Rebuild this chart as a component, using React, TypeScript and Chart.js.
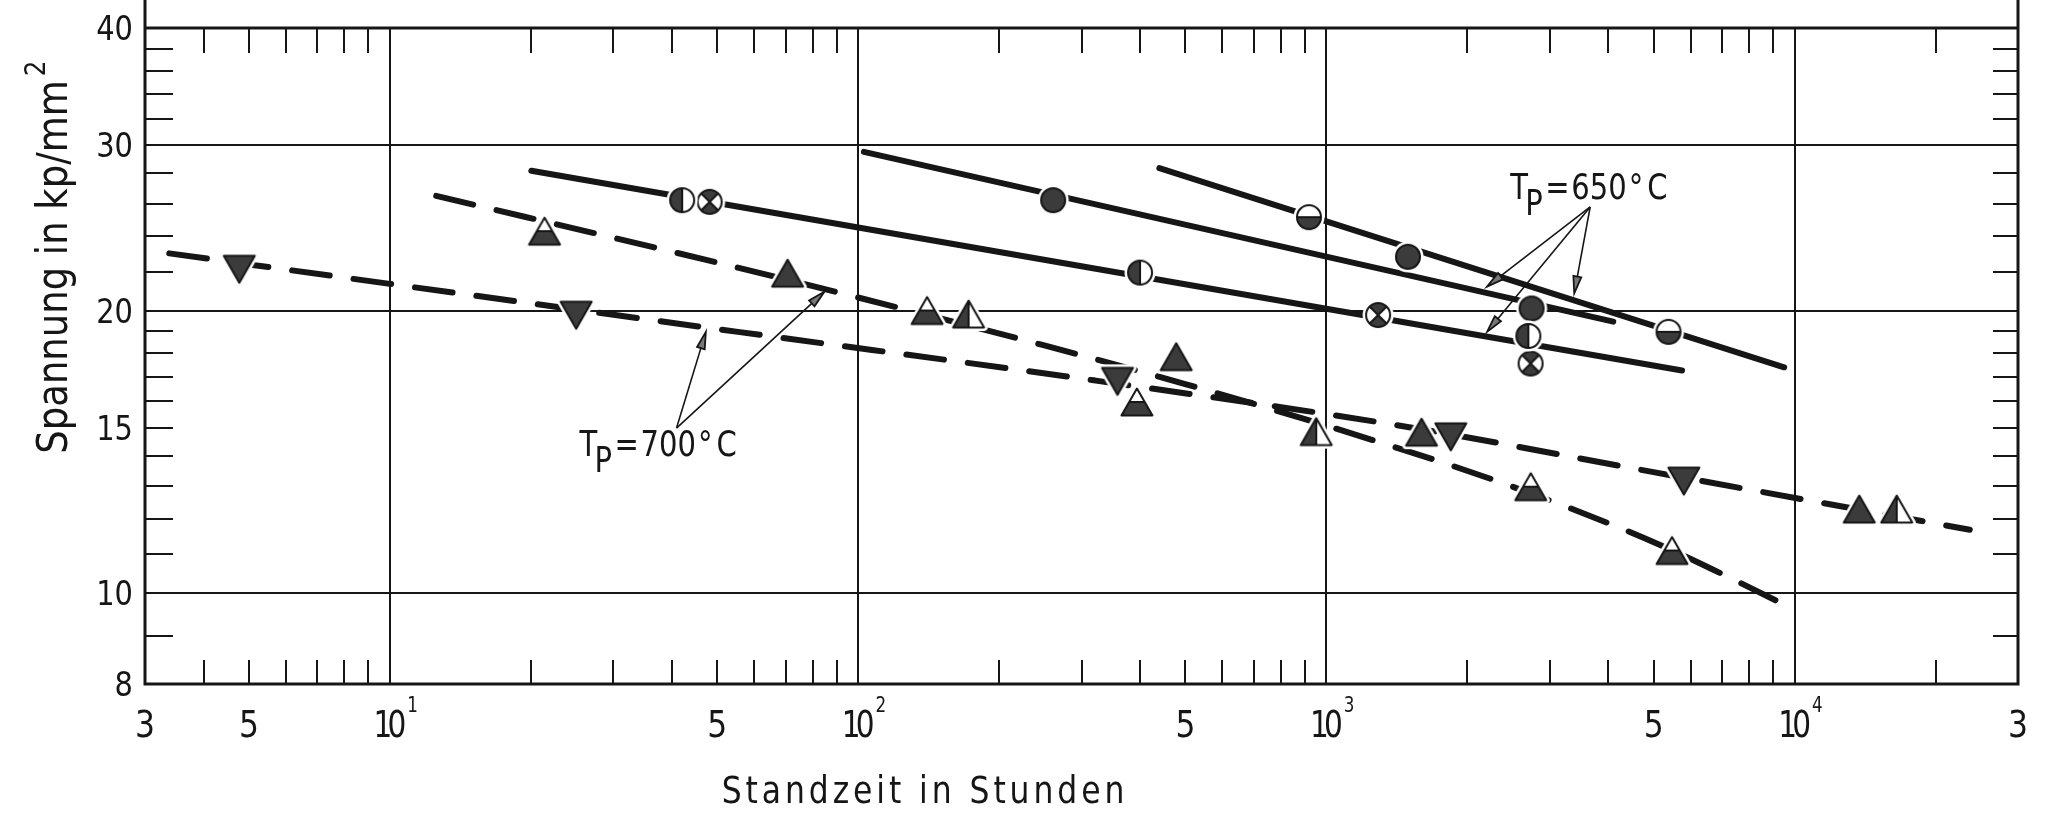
import { useEffect, useRef } from 'react';
import { Chart, registerables } from 'chart.js';

Chart.register(...registerables);

// Creep rupture: time to rupture (h) against stress (kp/mm²)

// Pre-aged at T_P = 650 °C — solid regression lines
const line650aTime = [20.05, 5750];
const line650aStress = [28.18, 17.26];
const line650bTime = [102.9, 4100];
const line650bStress = [29.52, 19.46];
const line650cTime = [440, 9500];
const line650cStress = [28.36, 17.4];

const halfCircleTime = [42.1, 400, 2700];
const halfCircleStress = [26.22, 21.95, 18.79];
const crossCircleTime = [48.2, 1290, 2730];
const crossCircleStress = [26.11, 19.78, 17.56];
const fullCircleTime = [261, 1494, 2744];
const fullCircleStress = [26.22, 22.82, 20.1];
const lowerHalfCircleTime = [918, 5380];
const lowerHalfCircleStress = [25.15, 18.98];

// Pre-aged at T_P = 700 °C — dashed curves
const line700aTime = [3.38, 10, 55.4, 322, 1480, 4930, 23670];
const line700aStress = [23.01, 21.35, 18.98, 16.84, 15.04, 13.47, 11.68];
const line700bTime = [12.56, 46.9, 98.5, 247.6, 499.5, 1309, 2500, 5105, 10100];
const line700bStress = [26.5, 22.67, 20.69, 18.38, 16.7, 14.46, 12.98, 11.28, 9.58];

const downTriTime = [4.77, 25, 358, 1844, 5800];
const downTriStress = [22.13, 19.77, 16.81, 14.67, 13.16];
const upTriTime = [70.7, 478, 1597, 13745];
const upTriStress = [21.92, 17.86, 14.84, 12.29];
const lowerTriTime = [21.4, 140.4, 394, 2733, 5473];
const lowerTriStress = [24.3, 20.0, 15.98, 12.98, 11.1];
const leftTriTime = [172.2, 951.5, 16525];
const leftTriStress = [19.83, 14.86, 12.29];

// Axes
const xMin = 3;
const xMax = 30000;
const yMin = 8;
const yMax = 40;
const xGridValues = [10, 100, 1000, 10000];
const xMinorTicks = [
  4, 5, 6, 7, 8, 9,
  20, 30, 40, 50, 60, 70, 80, 90,
  200, 300, 400, 500, 600, 700, 800, 900,
  2000, 3000, 4000, 5000, 6000, 7000, 8000, 9000,
  20000,
];
const yGridValues = [10, 20, 30];
const yMinorTicks = [9, 11, 12, 13, 14, 15, 16, 17, 18, 19, 22, 24, 26, 28, 32, 34, 36, 38];
const yTickLabels = [8, 10, 15, 20, 30, 40];
const xTickValues = [3, 5, 10, 50, 100, 500, 1000, 5000, 10000, 30000];
const xTickMantissa = ['3', '5', '10', '5', '10', '5', '10', '5', '10', '3'];
const xTickExponent = ['', '', '1', '', '2', '', '3', '', '4', ''];

// Annotations (time h, stress kp/mm²)
const label650At = [2470, 26.27];
const arrow650From = [3660, 25.79];
const arrow650To = [
  [2204, 21.21],
  [2204, 18.98],
  [3384, 20.86],
];
const label700At = [25.42, 13.98];
const arrow700From = [40.95, 14.99];
const arrow700To = [
  [47.3, 18.98],
  [84.7, 20.94],
];

const INK = '#161616';
const SHADE = '#3b3b3b';
const FONT = '"DejaVu Sans", "Liberation Sans", sans-serif';

type Kind =
  | 'circleFull'
  | 'circleLeft'
  | 'circleLower'
  | 'circleCross'
  | 'triDown'
  | 'triUp'
  | 'triLower'
  | 'triLeft';

function makeMarker(kind: Kind): HTMLCanvasElement {
  const S = 40;
  const c = document.createElement('canvas');
  c.width = S;
  c.height = S;
  const g = c.getContext('2d')!;
  const cx = S / 2;
  const cy = S / 2;
  g.lineJoin = 'round';
  if (kind.startsWith('circle')) {
    const r = 12;
    g.fillStyle = '#fff';
    g.beginPath();
    g.arc(cx, cy, r + 3.5, 0, Math.PI * 2);
    g.fill();
    g.beginPath();
    g.arc(cx, cy, r, 0, Math.PI * 2);
    g.fillStyle = kind === 'circleFull' ? SHADE : '#fff';
    g.fill();
    g.fillStyle = SHADE;
    g.strokeStyle = INK;
    g.lineWidth = 2;
    if (kind === 'circleLeft') {
      g.beginPath();
      g.moveTo(cx, cy);
      g.arc(cx, cy, r, Math.PI / 2, Math.PI * 1.5);
      g.closePath();
      g.fill();
      g.beginPath();
      g.moveTo(cx, cy - r);
      g.lineTo(cx, cy + r);
      g.stroke();
    }
    if (kind === 'circleLower') {
      g.beginPath();
      g.moveTo(cx, cy);
      g.arc(cx, cy, r, 0, Math.PI);
      g.closePath();
      g.fill();
      g.beginPath();
      g.moveTo(cx - r, cy);
      g.lineTo(cx + r, cy);
      g.stroke();
    }
    if (kind === 'circleCross') {
      g.beginPath();
      g.moveTo(cx, cy);
      g.arc(cx, cy, r, -Math.PI * 0.75, -Math.PI * 0.25);
      g.closePath();
      g.fill();
      g.beginPath();
      g.moveTo(cx, cy);
      g.arc(cx, cy, r, Math.PI * 0.25, Math.PI * 0.75);
      g.closePath();
      g.fill();
      const d = r * Math.SQRT1_2;
      g.beginPath();
      g.moveTo(cx - d, cy - d);
      g.lineTo(cx + d, cy + d);
      g.moveTo(cx + d, cy - d);
      g.lineTo(cx - d, cy + d);
      g.stroke();
    }
    g.beginPath();
    g.arc(cx, cy, r, 0, Math.PI * 2);
    g.stroke();
  } else {
    const hw = 15.5;
    const hh = 13.5;
    const down = kind === 'triDown';
    const path = () => {
      g.beginPath();
      if (down) {
        g.moveTo(cx - hw, cy - hh);
        g.lineTo(cx + hw, cy - hh);
        g.lineTo(cx, cy + hh);
      } else {
        g.moveTo(cx, cy - hh);
        g.lineTo(cx + hw, cy + hh);
        g.lineTo(cx - hw, cy + hh);
      }
      g.closePath();
    };
    path();
    g.strokeStyle = '#fff';
    g.lineWidth = 7;
    g.stroke();
    path();
    g.fillStyle = kind === 'triDown' || kind === 'triUp' ? SHADE : '#fff';
    g.fill();
    g.strokeStyle = INK;
    g.lineWidth = 2;
    if (kind === 'triLower' || kind === 'triLeft') {
      g.save();
      path();
      g.clip();
      g.fillStyle = SHADE;
      if (kind === 'triLower') g.fillRect(cx - hw, cy, hw * 2, hh + 2);
      else g.fillRect(cx - hw - 1, cy - hh - 1, hw + 1, hh * 2 + 2);
      g.restore();
      g.beginPath();
      if (kind === 'triLower') {
        g.moveTo(cx - hw / 2, cy);
        g.lineTo(cx + hw / 2, cy);
      } else {
        g.moveTo(cx, cy - hh);
        g.lineTo(cx, cy + hh);
      }
      g.stroke();
    }
    path();
    g.stroke();
  }
  return c;
}

function pts(t: number[], s: number[]) {
  return t.map((v, i) => ({ x: v, y: s[i] }));
}

function txt(
  ctx: CanvasRenderingContext2D,
  s: string,
  x: number,
  y: number,
  size: number,
  sx = 1,
  align: 'left' | 'center' | 'right' = 'left',
  spacing = 0,
) {
  ctx.save();
  ctx.font = `${size}px ${FONT}`;
  (ctx as any).letterSpacing = `${spacing}px`;
  const w = (ctx.measureText(s).width - spacing) * sx;
  const x0 = align === 'center' ? x - w / 2 : align === 'right' ? x - w : x;
  ctx.translate(x0, y);
  ctx.scale(sx, 1);
  ctx.textAlign = 'left';
  ctx.textBaseline = 'alphabetic';
  ctx.fillStyle = INK;
  ctx.fillText(s, 0, 0);
  ctx.restore();
  return w;
}

function arrow(ctx: CanvasRenderingContext2D, x0: number, y0: number, x1: number, y1: number) {
  const ang = Math.atan2(y1 - y0, x1 - x0);
  const len = 17;
  const half = 4;
  const bx = x1 - Math.cos(ang) * len;
  const by = y1 - Math.sin(ang) * len;
  ctx.save();
  ctx.strokeStyle = INK;
  ctx.lineWidth = 1.6;
  ctx.beginPath();
  ctx.moveTo(x0, y0);
  ctx.lineTo(bx, by);
  ctx.stroke();
  ctx.beginPath();
  ctx.moveTo(x1, y1);
  ctx.lineTo(bx + Math.sin(ang) * half, by - Math.cos(ang) * half);
  ctx.lineTo(bx - Math.sin(ang) * half, by + Math.cos(ang) * half);
  ctx.closePath();
  ctx.fillStyle = '#777';
  ctx.fill();
  ctx.lineWidth = 1.8;
  ctx.stroke();
  ctx.restore();
}

function tpLabel(ctx: CanvasRenderingContext2D, x: number, y: number, temp: string) {
  const size = 35;
  const sx = 0.83;
  txt(ctx, 'T', x, y, size, sx);
  txt(ctx, 'P', x + 15, y + 16, size, sx);
  txt(ctx, '=', x + 35, y, size, sx);
  const w = txt(ctx, temp, x + 61, y, size, sx);
  const dw = txt(ctx, '°', x + 63 + w, y, size, sx);
  txt(ctx, 'C', x + 67 + w + dw, y, size, sx);
}

const axisPlugin = {
  id: 'axisDecor',
  beforeDatasetsDraw(chart: any) {
    const { ctx, chartArea: a, scales } = chart;
    const xs = scales.x;
    const ys = scales.y;
    ctx.save();
    ctx.strokeStyle = INK;
    ctx.lineWidth = 2;
    ctx.beginPath();
    for (const v of xGridValues) {
      const px = Math.round(xs.getPixelForValue(v));
      ctx.moveTo(px, a.top);
      ctx.lineTo(px, a.bottom);
    }
    for (const v of yGridValues) {
      const py = Math.round(ys.getPixelForValue(v));
      ctx.moveTo(a.left, py);
      ctx.lineTo(a.right, py);
    }
    ctx.stroke();
    ctx.restore();
  },
  afterDatasetsDraw(chart: any) {
    const { ctx, chartArea: a, scales } = chart;
    const xs = scales.x;
    const ys = scales.y;
    ctx.save();
    ctx.strokeStyle = INK;

    // minor ticks on all four sides
    ctx.lineWidth = 2;
    ctx.beginPath();
    for (const v of xMinorTicks) {
      const px = Math.round(xs.getPixelForValue(v));
      ctx.moveTo(px, a.bottom);
      ctx.lineTo(px, a.bottom - 24);
      ctx.moveTo(px, a.top);
      ctx.lineTo(px, a.top + 25);
    }
    for (const v of yMinorTicks) {
      const py = Math.round(ys.getPixelForValue(v));
      ctx.moveTo(a.left, py);
      ctx.lineTo(a.left + 28, py);
      ctx.moveTo(a.right, py);
      ctx.lineTo(a.right - 25, py);
    }
    ctx.stroke();

    // frame; the side rules run up to the top of the sheet
    ctx.lineWidth = 3;
    ctx.beginPath();
    ctx.moveTo(a.left, 0);
    ctx.lineTo(a.left, a.bottom + 1.5);
    ctx.moveTo(a.right, 0);
    ctx.lineTo(a.right, a.bottom + 1.5);
    ctx.moveTo(a.left, a.top);
    ctx.lineTo(a.right, a.top);
    ctx.moveTo(a.left - 1.5, a.bottom);
    ctx.lineTo(a.right + 1.5, a.bottom);
    ctx.stroke();

    // y tick labels
    for (const v of yTickLabels) {
      const py = ys.getPixelForValue(v);
      txt(ctx, String(v), a.left - 12, py + 12, 34, 0.85, 'right');
    }

    // x tick labels with decade exponents
    xTickValues.forEach((v, i) => {
      const px = v === xMin ? a.left : v === xMax ? a.right : xs.getPixelForValue(v);
      const m = xTickMantissa[i];
      const e = xTickExponent[i];
      const base = a.bottom + 53;
      if (e) {
        const w = txt(ctx, m, px, base, 37, 0.8, 'center', -6);
        txt(ctx, e, px + w / 2 + 1, base - 25, 21, 0.8, 'left');
      } else {
        txt(ctx, m, px, base, 37, 0.85, 'center');
      }
    });

    // axis titles
    txt(ctx, 'Standzeit in Stunden', 923, 803, 37, 0.85, 'center', 4.6);
    ctx.save();
    ctx.translate(67, 267);
    ctx.rotate(-Math.PI / 2);
    const tw = txt(ctx, 'Spannung in kp/mm', 0, 0, 43, 0.86, 'center');
    txt(ctx, '2', tw / 2 + 4, -22, 28, 0.88, 'left');
    ctx.restore();

    // T_P annotations with leader arrows
    const P = (p: number[]) => [xs.getPixelForValue(p[0]), ys.getPixelForValue(p[1])];
    const [l6x, l6y] = P(label650At);
    tpLabel(ctx, l6x, l6y, '650');
    const [f6x, f6y] = P(arrow650From);
    for (const t of arrow650To) {
      const [tx, ty] = P(t);
      arrow(ctx, f6x, f6y, tx, ty);
    }
    const [l7x, l7y] = P(label700At);
    tpLabel(ctx, l7x, l7y, '700');
    const [f7x, f7y] = P(arrow700From);
    for (const t of arrow700To) {
      const [tx, ty] = P(t);
      arrow(ctx, f7x, f7y, tx, ty);
    }
    ctx.restore();
  },
};

export default function App() {
  const ref = useRef<HTMLCanvasElement | null>(null);

  useEffect(() => {
    document.body.style.margin = '0';
    const canvas = ref.current;
    if (!canvas) return;

    const marker = (t: number[], s: number[], kind: Kind) => ({
      type: 'scatter' as const,
      data: pts(t, s),
      pointStyle: makeMarker(kind),
      pointRadius: 12,
      showLine: false,
      order: 0,
    });
    const curve = (t: number[], s: number[], dashed: boolean) => ({
      type: 'line' as const,
      data: pts(t, s),
      borderColor: INK,
      borderWidth: 6,
      borderCapStyle: 'round' as const,
      borderJoinStyle: 'round' as const,
      borderDash: dashed ? [38, 24] : [],
      pointRadius: 0,
      fill: false,
      tension: 0,
      cubicInterpolationMode: dashed ? ('monotone' as const) : ('default' as const),
      order: 1,
    });

    const chart = new Chart(canvas, {
      type: 'scatter',
      data: {
        datasets: [
          curve(line650aTime, line650aStress, false),
          curve(line650bTime, line650bStress, false),
          curve(line650cTime, line650cStress, false),
          curve(line700aTime, line700aStress, true),
          curve(line700bTime, line700bStress, true),
          marker(halfCircleTime, halfCircleStress, 'circleLeft'),
          marker(crossCircleTime, crossCircleStress, 'circleCross'),
          marker(fullCircleTime, fullCircleStress, 'circleFull'),
          marker(lowerHalfCircleTime, lowerHalfCircleStress, 'circleLower'),
          marker(downTriTime, downTriStress, 'triDown'),
          marker(upTriTime, upTriStress, 'triUp'),
          marker(lowerTriTime, lowerTriStress, 'triLower'),
          marker(leftTriTime, leftTriStress, 'triLeft'),
        ] as any,
      },
      options: {
        responsive: false,
        animation: false,
        events: [],
        layout: { padding: { left: 145, right: 29, top: 28, bottom: 137 } },
        plugins: {
          legend: { display: false },
          tooltip: { enabled: false },
          title: { display: false },
        },
        scales: {
          x: { type: 'logarithmic', min: xMin, max: xMax, display: false },
          y: { type: 'logarithmic', min: yMin, max: yMax, display: false },
        },
      },
      plugins: [axisPlugin],
    });

    return () => chart.destroy();
  }, []);

  return (
    <div style={{ width: 2047, height: 821, background: '#fff' }}>
      <canvas ref={ref} width={2047} height={821} style={{ display: 'block', width: 2047, height: 821 }} />
    </div>
  );
}
